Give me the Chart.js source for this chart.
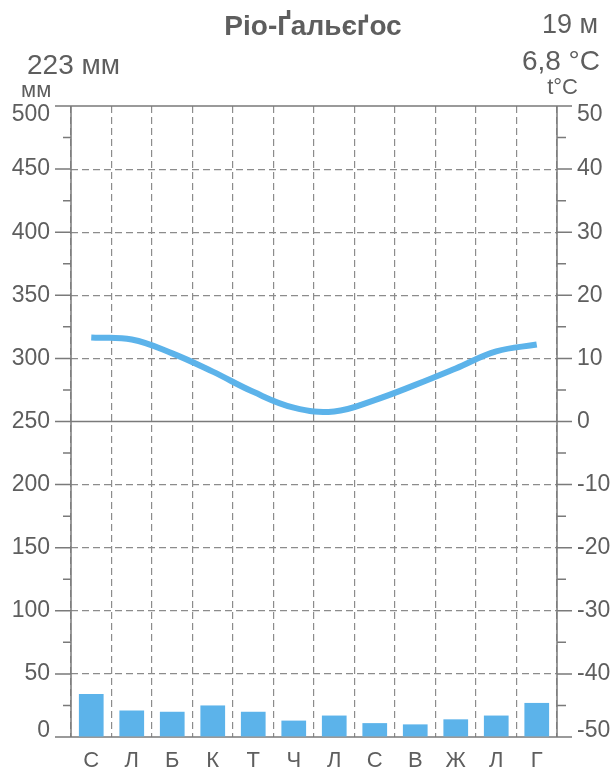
<!DOCTYPE html>
<html>
<head>
<meta charset="utf-8">
<script src="https://cdn.jsdelivr.net/npm/chart.js@4/dist/chart.umd.min.js"></script>
<style>
  html, body { margin: 0; padding: 0; background: #fff; }
  #wrap { width: 615px; height: 772px; position: relative; }
</style>
</head>
<body>
<div id="wrap"><canvas id="climateChart" width="615" height="772"></canvas></div>
<script>
// months (Ukrainian initials)
const months = ["С", "Л", "Б", "К", "Т", "Ч", "Л", "С", "В", "Ж", "Л", "Г"];
// precipitation, mm
const precip = [34, 21, 20, 25, 20, 13, 17, 11, 10, 14, 17, 27];
// mean temperature, °C
const temps = [13.3, 13.0, 10.8, 7.9, 4.7, 2.2, 1.6, 3.4, 5.8, 8.4, 11.1, 12.2];

const stationName = "Ріо-Ґальєґос";
const altitude = "19 м";
const annualPrecip = "223 мм";
const annualTemp = "6,8 °C";

const textColor = "#5e5e5e";
const axisColor = "#7a7a7a";
const gridColor = "#8c8c8c";
const blue = "#5cb3ea";
const font = "'Liberation Sans', Arial, sans-serif";
const tickFont = { size: 23, family: font };

// axes, tick marks, edge labels and header text
const frame = {
  id: "frame",
  beforeDatasetsDraw(chart) {
    const { ctx, chartArea: a, scales } = chart;
    const y = scales.y, y2 = scales.y2;
    ctx.save();
    ctx.strokeStyle = axisColor;
    ctx.lineWidth = 1.5;
    ctx.beginPath();
    ctx.moveTo(a.left, a.top); ctx.lineTo(a.left, a.bottom);
    ctx.moveTo(a.right, a.top); ctx.lineTo(a.right, a.bottom);
    ctx.moveTo(a.left - 16, a.top); ctx.lineTo(a.right + 15, a.top);
    ctx.moveTo(a.left - 16, a.bottom); ctx.lineTo(a.right + 15, a.bottom);
    const mid = y.getPixelForValue(250);
    ctx.moveTo(a.left - 16, mid); ctx.lineTo(a.right + 15, mid);
    for (let v = 0; v <= 500; v += 25) {
      const py = y.getPixelForValue(v);
      ctx.moveTo(a.left - (v % 50 === 0 ? 16 : 8), py);
      ctx.lineTo(a.left, py);
    }
    for (let t = -50; t <= 50; t += 5) {
      const py = y2.getPixelForValue(t);
      ctx.moveTo(a.right, py);
      ctx.lineTo(a.right + (t % 10 === 0 ? 15 : 9), py);
    }
    ctx.stroke();

    // end labels sit inside the axis range
    ctx.fillStyle = textColor;
    ctx.font = "23px " + font;
    ctx.textBaseline = "middle";
    ctx.textAlign = "right";
    ctx.fillText(String(y.max), a.left - 21, a.top + 9);
    ctx.fillText(String(y.min), a.left - 21, a.bottom - 6);
    ctx.textAlign = "left";
    ctx.fillText(String(y2.max), a.right + 20, a.top + 9);
    ctx.fillText(String(y2.min), a.right + 20, a.bottom - 6);
    ctx.restore();
  },
  afterDraw(chart) {
    const { ctx } = chart;
    ctx.save();
    ctx.fillStyle = textColor;
    ctx.textBaseline = "alphabetic";
    ctx.font = "bold 28px " + font;
    ctx.textAlign = "center";
    ctx.fillText(stationName, 313, 35);
    ctx.font = "27px " + font;
    ctx.textAlign = "right";
    ctx.fillText(altitude, 598, 33);
    ctx.font = "28px " + font;
    ctx.fillText(annualTemp, 600, 70);
    ctx.textAlign = "left";
    ctx.fillText(annualPrecip, 27, 74);
    ctx.font = "22px " + font;
    ctx.fillText("мм", 21, 97);
    ctx.textAlign = "right";
    ctx.fillText("t°C", 578, 94);
    ctx.restore();
  }
};

const edge = (v, lo, hi) => (v === lo || v === hi) ? "" : v;

const ctx = document.getElementById("climateChart");
new Chart(ctx, {
  data: {
    labels: months,
    datasets: [
      {
        type: "line",
        label: "t°C",
        data: temps,
        yAxisID: "y2",
        borderColor: blue,
        borderWidth: 6,
        pointRadius: 0,
        tension: 0.4,
        fill: false,
        order: 0
      },
      {
        type: "bar",
        label: "мм",
        data: precip,
        yAxisID: "y",
        backgroundColor: blue,
        borderWidth: 0,
        barPercentage: 0.61,
        categoryPercentage: 1,
        order: 1
      }
    ]
  },
  options: {
    responsive: false,
    animation: false,
    layout: { padding: { top: 106, left: 0, right: 0, bottom: 0 } },
    plugins: {
      legend: { display: false },
      tooltip: { enabled: false }
    },
    scales: {
      x: {
        offset: true,
        grid: {
          offset: true,
          color: gridColor,
          lineWidth: 1.2,
          drawTicks: false
        },
        border: { display: false, dash: [7, 4] },
        ticks: { color: textColor, font: { size: 22, family: font }, padding: 11 },
        afterFit(scale) { scale.height = 35; }
      },
      y: {
        position: "left",
        min: 0,
        max: 500,
        grid: {
          color: (c) => (c.tick && (c.tick.value === 0 || c.tick.value === 500 || c.tick.value === 250)) ? "rgba(0,0,0,0)" : gridColor,
          lineWidth: 1.2,
          drawTicks: false
        },
        border: { display: false, dash: [7, 4] },
        ticks: { stepSize: 50, color: textColor, font: tickFont, padding: 21,
          callback: (v) => edge(v, 0, 500) },
        afterFit(scale) { scale.width = 71; }
      },
      y2: {
        position: "right",
        min: -50,
        max: 50,
        grid: { display: false, drawTicks: false },
        border: { display: false },
        ticks: { stepSize: 10, color: textColor, font: tickFont, padding: 20,
          callback: (v) => edge(v, -50, 50) },
        afterFit(scale) { scale.width = 58; }
      }
    }
  },
  plugins: [frame]
});
</script>
</body>
</html>
